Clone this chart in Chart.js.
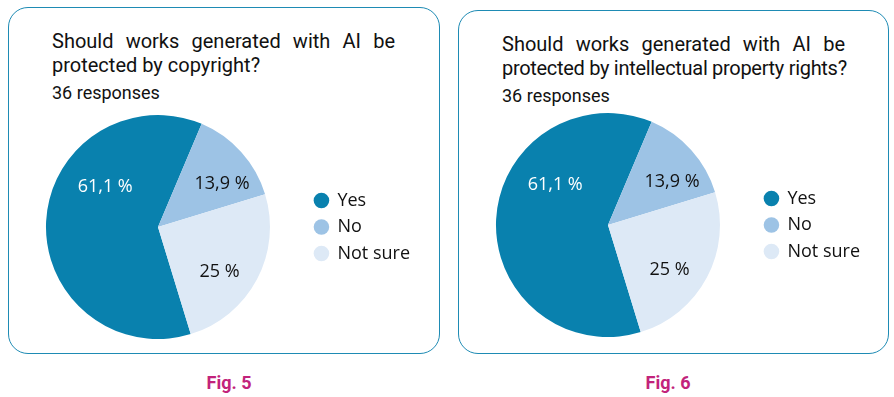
<!DOCTYPE html>
<html>
<head>
<meta charset="utf-8">
<script src="https://cdn.jsdelivr.net/npm/chart.js@4"></script>
<style>
  html, body { margin: 0; padding: 0; background: #fff; }
  body { width: 894px; height: 397px; position: relative; overflow: hidden; font-family: Roboto, sans-serif; color: #111; }
  .panel { position: absolute; border: 1.5px solid #1e8bb4; border-radius: 20px; box-sizing: border-box; }
  .title { position: absolute; width: 343px; font-size: 20px; line-height: 24px; }
  .title .l1 { text-align: justify; text-align-last: justify; }
  .title .l2 { white-space: nowrap; }
  .sub { position: absolute; font-size: 18px; line-height: 20px; }
  .fig { position: absolute; width: 120px; text-align: center; font-size: 18px; font-weight: bold; color: #c2237b; }
  canvas { position: absolute; }
</style>
</head>
<body>
<div class="panel" style="left:8px; top:7px; width:432px; height:347px;"></div>
<div class="panel" style="left:458px; top:10px; width:431px; height:344px;"></div>

<div class="title" style="left:52px; top:29px;">
  <div class="l1">Should works generated with AI be</div>
  <div class="l2">protected by copyright?</div>
</div>
<div class="sub" style="left:52px; top:83px;">36 responses</div>

<div class="title" style="left:502px; top:32px;">
  <div class="l1">Should works generated with AI be</div>
  <div class="l2" style="letter-spacing:-0.3px;">protected by intellectual property rights?</div>
</div>
<div class="sub" style="left:502px; top:86px;">36 responses</div>

<div class="fig" style="left:169px; top:372px;">Fig. 5</div>
<div class="fig" style="left:608px; top:372px;">Fig. 6</div>

<div style="position:absolute; left:10px; top:112px; width:410px; height:230px;"><canvas id="fig5"></canvas></div>
<div style="position:absolute; left:460px; top:110px; width:410px; height:230px;"><canvas id="fig6"></canvas></div>

<script>
// answers and shares in percent (36 responses each)
const answers = ["Yes", "No", "Not sure"];
const fig5Shares = [61.1, 13.9, 25];
const fig6Shares = [61.1, 13.9, 25];
const sliceColors = ["#0981ae", "#9dc3e5", "#dde9f6"];
const labelColors = ["#ffffff", "#111111", "#111111"];

Chart.defaults.font.family = "'Open Sans', sans-serif";

// percentage text inside each slice
const sliceLabels = {
  id: "sliceLabels",
  afterDatasetsDraw(chart) {
    const ctx = chart.ctx;
    const shift = [34, 8, 8];          // degrees, moves text along the arc
    const frac = [0.59, 0.69, 0.68];   // share of the radius
    const values = chart.data.datasets[0].data;
    ctx.save();
    ctx.font = "18px 'Open Sans', sans-serif";
    ctx.textAlign = "center";
    ctx.textBaseline = "middle";
    chart.getDatasetMeta(0).data.forEach((arc, i) => {
      const p = arc.getProps(["x", "y", "startAngle", "endAngle", "outerRadius"]);
      const a = (p.startAngle + p.endAngle) / 2 + shift[i] * Math.PI / 180;
      const r = p.outerRadius * frac[i];
      ctx.fillStyle = labelColors[i];
      ctx.fillText(String(values[i]).replace(".", ",") + " %", p.x + Math.cos(a) * r, p.y + Math.sin(a) * r);
    });
    ctx.restore();
  }
};

function makePie(id, shares) {
  new Chart(document.getElementById(id), {
    type: "pie",
    data: {
      labels: answers,
      datasets: [{
        data: shares,
        backgroundColor: sliceColors,
        borderWidth: 0,
        hoverOffset: 0
      }]
    },
    options: {
      responsive: true,
      maintainAspectRatio: false,
      animation: false,
      rotation: 163,
      layout: { padding: { top: 3, bottom: 3 } },
      plugins: {
        legend: {
          position: "right",
          labels: {
            usePointStyle: true,
            pointStyle: "circle",
            boxWidth: 14,
            boxHeight: 11,
            padding: 8.5,
            color: "#111",
            font: { size: 18 }
          }
        },
        tooltip: { enabled: false }
      }
    },
    plugins: [sliceLabels]
  });
}

makePie("fig5", fig5Shares);
makePie("fig6", fig6Shares);
</script>
</body>
</html>
